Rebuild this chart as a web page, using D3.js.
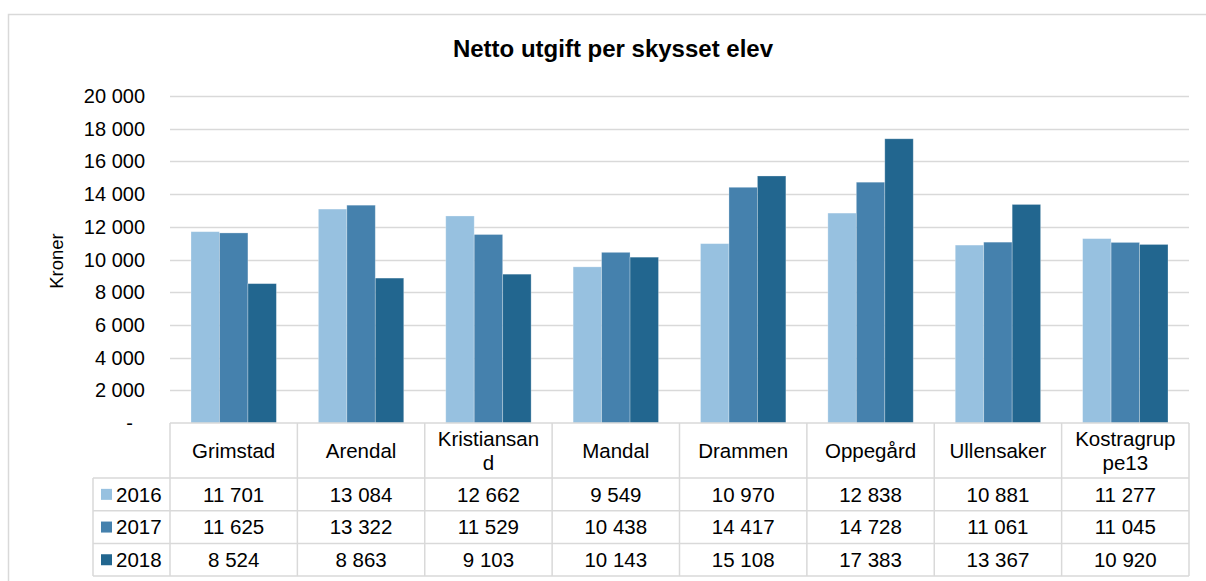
<!DOCTYPE html>
<html>
<head>
<meta charset="utf-8">
<script src="https://cdn.jsdelivr.net/npm/d3@7"></script>
<style>
  body { margin: 0; background: #fff; }
  svg { font-family: "Liberation Sans", Arial, sans-serif; }
</style>
</head>
<body>
<svg width="1206" height="581"></svg>
<script>
const categories = ["Grimstad", "Arendal", "Kristiansand", "Mandal", "Drammen", "Oppegård", "Ullensaker", "Kostragruppe13"];
const categoryLines = [["Grimstad"], ["Arendal"], ["Kristiansan", "d"], ["Mandal"], ["Drammen"], ["Oppegård"], ["Ullensaker"], ["Kostragrup", "pe13"]];
const years = ["2016", "2017", "2018"];
const values2016 = [11701, 13084, 12662, 9549, 10970, 12838, 10881, 11277];
const values2017 = [11625, 13322, 11529, 10438, 14417, 14728, 11061, 11045];
const values2018 = [8524, 8863, 9103, 10143, 15108, 17383, 13367, 10920];
const yTicks = [0, 2000, 4000, 6000, 8000, 10000, 12000, 14000, 16000, 18000, 20000];
const colors = ["#97c1e0", "#4581ad", "#22668f"];

const series = [values2016, values2017, values2018];

const svg = d3.select("svg");

// outer frame
svg.append("rect")
  .attr("x", 8.5).attr("y", 14.5)
  .attr("width", 1210).attr("height", 600)
  .attr("fill", "none").attr("stroke", "#d9d9d9").attr("stroke-width", 1.5);

svg.append("text")
  .attr("x", 613).attr("y", 57)
  .attr("text-anchor", "middle")
  .attr("font-size", 24).attr("font-weight", "bold")
  .text("Netto utgift per skysset elev");

const plotLeft = 170, plotRight = 1189, plotTop = 96, plotBottom = 423;

const x0 = d3.scaleBand().domain(categories).range([plotLeft, plotRight]).padding(0);
const x1 = d3.scaleBand().domain(years).range([21, x0.bandwidth() - 21]).padding(0);
const y = d3.scaleLinear().domain([0, 20000]).range([plotBottom, plotTop]);

const fmt = v => v === 0 ? "-" : d3.format(",")(v).replace(/,/g, " ");

// gridlines
svg.append("g")
  .selectAll("line")
  .data(yTicks.filter(d => d > 0))
  .join("line")
  .attr("x1", plotLeft).attr("x2", plotRight)
  .attr("y1", d => Math.round(y(d)) + 0.5).attr("y2", d => Math.round(y(d)) + 0.5)
  .attr("stroke", "#d9d9d9").attr("stroke-width", 1.5);

// y axis labels
svg.append("g")
  .selectAll("text")
  .data(yTicks)
  .join("text")
  .attr("x", d => d === 0 ? 133 : 145)
  .attr("y", d => y(d))
  .attr("dy", "0.35em")
  .attr("text-anchor", "end")
  .attr("font-size", 20)
  .text(fmt);

svg.append("text")
  .attr("transform", "translate(63,261) rotate(-90)")
  .attr("text-anchor", "middle")
  .attr("font-size", 18.5)
  .text("Kroner");

// bars
const groups = svg.append("g")
  .selectAll("g")
  .data(categories)
  .join("g")
  .attr("transform", d => `translate(${x0(d)},0)`);

groups.selectAll("rect")
  .data((d, i) => years.map((yr, j) => ({ yr, v: series[j][i], j })))
  .join("rect")
  .attr("x", d => x1(d.yr))
  .attr("y", d => y(d.v))
  .attr("width", x1.bandwidth())
  .attr("height", d => plotBottom - y(d.v))
  .attr("fill", d => colors[d.j])
  .attr("stroke", "#ffffff").attr("stroke-opacity", 0.35).attr("stroke-width", 0.8);

// data table
const tableTop = plotBottom, headerH = 55, rowH = 32.7, legendLeft = 93;
const gridColor = "#d9d9d9";
const tbl = svg.append("g").attr("stroke", gridColor).attr("stroke-width", 1.5).attr("fill", "none");

tbl.append("line").attr("x1", plotLeft).attr("x2", plotRight).attr("y1", tableTop).attr("y2", tableTop);
for (let r = 0; r <= 3; r++) {
  const yy = tableTop + headerH + r * rowH;
  tbl.append("line").attr("x1", legendLeft).attr("x2", plotRight).attr("y1", yy).attr("y2", yy);
}
tbl.append("line").attr("x1", legendLeft).attr("x2", legendLeft)
  .attr("y1", tableTop + headerH).attr("y2", tableTop + headerH + 3 * rowH);
categories.forEach(c => {
  tbl.append("line").attr("x1", x0(c)).attr("x2", x0(c))
    .attr("y1", tableTop).attr("y2", tableTop + headerH + 3 * rowH);
});
tbl.append("line").attr("x1", plotRight).attr("x2", plotRight)
  .attr("y1", tableTop).attr("y2", tableTop + headerH + 3 * rowH);

// header labels
categories.forEach((c, i) => {
  const lines = categoryLines[i];
  const cx = x0(c) + x0.bandwidth() / 2;
  const cy = tableTop + headerH / 2;
  const t = svg.append("text").attr("text-anchor", "middle").attr("font-size", 20.5);
  lines.forEach((ln, k) => {
    t.append("tspan")
      .attr("x", cx)
      .attr("y", cy + (k - (lines.length - 1) / 2) * 24)
      .attr("dy", "0.35em")
      .text(ln);
  });
});

// rows
years.forEach((yr, j) => {
  const cy = tableTop + headerH + j * rowH + rowH / 2;
  svg.append("rect")
    .attr("x", 101).attr("y", cy - 5.5)
    .attr("width", 11).attr("height", 11)
    .attr("fill", colors[j]);
  svg.append("text")
    .attr("x", 116).attr("y", cy).attr("dy", "0.35em")
    .attr("font-size", 20.5)
    .text(yr);
  categories.forEach((c, i) => {
    svg.append("text")
      .attr("x", x0(c) + x0.bandwidth() / 2)
      .attr("y", cy).attr("dy", "0.35em")
      .attr("text-anchor", "middle")
      .attr("font-size", 20.5)
      .text(fmt(series[j][i]));
  });
});
</script>
</body>
</html>
